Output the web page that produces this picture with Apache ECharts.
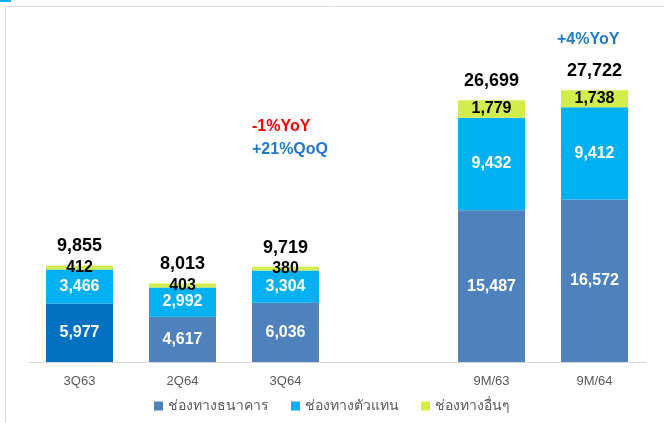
<!DOCTYPE html>
<html>
<head>
<meta charset="utf-8">
<script src="https://cdn.jsdelivr.net/npm/echarts@6/dist/echarts.min.js"></script>
<style>
  html, body { margin: 0; padding: 0; background: #fff; }
  #main { width: 664px; height: 423px; }
</style>
</head>
<body>
<div id="main"></div>
<script>
// categories (empty slot keeps the gap between quarters and 9M)
var categories = ['3Q63', '2Q64', '3Q64', '', '9M/63', '9M/64']
var bank = [5977, 4617, 6036, null, 15487, 16572]
var agent = [3466, 2992, 3304, null, 9432, 9412]
var other = [412, 403, 380, null, 1779, 1738]
var totals = [9855, 8013, 9719, null, 26699, 27722]
var seriesNames = ['ช่องทางธนาคาร', 'ช่องทางตัวแทน', 'ช่องทางอื่นๆ']

var font = '"Liberation Sans", "Noto Sans", sans-serif'

function fmt(v) {
  return v == null ? '' : Number(v).toLocaleString('en-US')
}

var chart = echarts.init(document.getElementById('main'))

chart.setOption({
  animation: false,
  textStyle: { fontFamily: font },
  grid: {
    left: 28,
    right: 18,
    top: 68,
    bottom: 61
  },
  legend: {
    data: seriesNames,
    bottom: 5,
    left: 'center',
    itemWidth: 9,
    itemHeight: 9,
    itemGap: 22,
    icon: 'rect',
    textStyle: { color: '#595959', fontSize: 14, fontFamily: font }
  },
  xAxis: {
    type: 'category',
    data: categories,
    axisTick: { show: false },
    axisLine: { lineStyle: { color: '#D9D9D9', width: 1 } },
    axisLabel: { color: '#595959', fontSize: 13, margin: 13 }
  },
  yAxis: {
    type: 'value',
    min: 0,
    max: 30000,
    show: false,
    splitLine: { show: false }
  },
  graphic: [
    {
      type: 'rect',
      shape: { x: 5.5, y: 6.5, width: 670, height: 420 },
      style: { fill: 'none', stroke: '#D9D9D9', lineWidth: 1 }
    },
    {
      type: 'rect',
      shape: { x: 0, y: 0, width: 11, height: 2 },
      style: { fill: '#00B0F0' }
    },
    {
      type: 'text', left: 252, top: 119,
      style: { text: '-1%YoY', fill: '#FF0000', font: 'bold 16px ' + font }
    },
    {
      type: 'text', left: 252, top: 142,
      style: { text: '+21%QoQ', fill: '#1F78C8', font: 'bold 16px ' + font }
    },
    {
      type: 'text', left: 557, top: 32,
      style: { text: '+4%YoY', fill: '#1F78C8', font: 'bold 16px ' + font }
    }
  ],
  series: [
    {
      name: seriesNames[0],
      type: 'bar',
      stack: 'total',
      barWidth: 67,
      itemStyle: { color: '#4F81BD' },
      data: bank.map(function(v, i) {
        return i === 0 ? { value: v, itemStyle: { color: '#0070C0' } } : v
      }),
      label: {
        show: true,
        position: 'inside',
        color: '#fff',
        fontWeight: 'bold',
        fontSize: 16,
        formatter: function(p) { return fmt(p.value) }
      }
    },
    {
      name: seriesNames[1],
      type: 'bar',
      stack: 'total',
      itemStyle: { color: '#00B0F0' },
      data: agent,
      label: {
        show: true,
        position: 'inside',
        color: '#fff',
        fontWeight: 'bold',
        fontSize: 16,
        formatter: function(p) { return fmt(p.value) }
      }
    },
    {
      name: seriesNames[2],
      type: 'bar',
      stack: 'total',
      itemStyle: { color: '#D2EC4C' },
      data: other,
      label: {
        show: true,
        position: 'inside',
        color: '#000',
        fontWeight: 'bold',
        fontSize: 16,
        formatter: function(p) { return fmt(p.value) }
      }
    },
    {
      name: 'total',
      type: 'bar',
      stack: 'total',
      itemStyle: { color: 'transparent' },
      data: totals.map(function(v) { return v == null ? null : 0 }),
      label: {
        show: true,
        position: 'top',
        distance: 10,
        color: '#000',
        fontWeight: 'bold',
        fontSize: 18,
        formatter: function(p) { return fmt(totals[p.dataIndex]) }
      }
    }
  ]
})
</script>
</body>
</html>
